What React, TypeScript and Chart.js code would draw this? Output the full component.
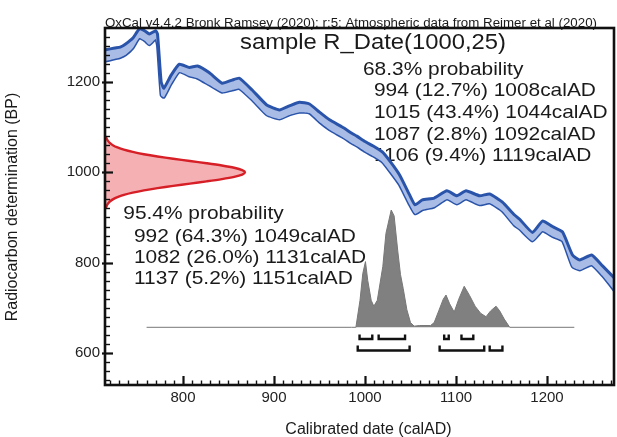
import React, { useEffect, useRef } from 'react';
import { Chart, registerables } from 'chart.js';

Chart.register(...registerables);

// ---- Data ----
// Calibration curve (±1σ band): calendar years AD, upper and lower edge in BP
const calYears = [712, 715, 725, 731, 737, 745, 752, 758, 763, 770, 772, 776, 779, 787, 796, 807, 816, 829, 843, 854, 862, 876, 892, 906, 917, 928, 939, 950, 961, 975, 985, 991, 1000, 1009, 1019, 1028, 1038, 1049, 1055, 1063, 1076, 1090, 1101, 1111, 1126, 1137, 1151, 1164, 1170, 1184, 1195, 1206, 1217, 1228, 1236, 1249, 1261, 1276];
const curveUpper = [1270, 1271, 1275, 1277, 1284, 1297, 1317, 1313, 1306, 1313, 1306, 1200, 1186, 1215, 1239, 1232, 1235, 1220, 1197, 1204, 1208, 1182, 1149, 1138, 1147, 1155, 1151, 1133, 1116, 1100, 1087, 1080, 1068, 1058, 1045, 1023, 994, 950, 928, 939, 943, 959, 948, 959, 948, 952, 934, 906, 896, 867, 892, 880, 868, 817, 806, 817, 793, 762];
const curveLower = [1245, 1246, 1251, 1254, 1260, 1275, 1297, 1291, 1282, 1295, 1280, 1170, 1166, 1196, 1222, 1213, 1208, 1193, 1177, 1182, 1185, 1160, 1127, 1118, 1127, 1133, 1131, 1111, 1094, 1078, 1065, 1058, 1046, 1036, 1023, 1000, 972, 928, 908, 917, 923, 941, 930, 941, 928, 932, 914, 883, 874, 848, 870, 858, 848, 791, 784, 795, 771, 733];

// Radiocarbon measurement R_Date(1000,25): BP values and relative density
const gaussBP = [1080, 1075, 1070, 1065, 1060, 1055, 1050, 1045, 1040, 1035, 1030, 1025, 1020, 1015, 1010, 1005, 1000, 995, 990, 985, 980, 975, 970, 965, 960, 955, 950, 945, 940, 935, 930, 925, 920];
const gaussDensity = [0.006, 0.011, 0.02, 0.034, 0.056, 0.089, 0.135, 0.198, 0.278, 0.375, 0.487, 0.607, 0.726, 0.835, 0.923, 0.98, 1, 0.98, 0.923, 0.835, 0.726, 0.607, 0.487, 0.375, 0.278, 0.198, 0.135, 0.089, 0.056, 0.034, 0.02, 0.011, 0.006];

// Calibrated probability distribution: years AD and relative density
const probYears = [760, 985, 990, 994.5, 997.6, 1000.5, 1003, 1006.8, 1009.7, 1013.5, 1019.6, 1023, 1028.8, 1032, 1036, 1039, 1042, 1046, 1050, 1054, 1060, 1072, 1076, 1081, 1086, 1089, 1093, 1098, 1103, 1109, 1115, 1121, 1127, 1133, 1138, 1144, 1148, 1153, 1159, 1230];
const probDensity = [0, 0, 0, 0.23, 0.46, 0.56, 0.4, 0.23, 0.18, 0.23, 0.52, 0.8, 1, 0.95, 0.65, 0.45, 0.33, 0.15, 0.04, 0.01, 0.015, 0.015, 0.04, 0.14, 0.24, 0.275, 0.2, 0.13, 0.24, 0.35, 0.27, 0.18, 0.12, 0.09, 0.14, 0.18, 0.14, 0.07, 0, 0];

// Ranges
const probLevels = [68.3, 95.4];
const ranges68 = [[994, 1008], [1015, 1044], [1087, 1092], [1106, 1119]];
const percents68 = [12.7, 43.4, 2.8, 9.4];
const ranges95 = [[992, 1049], [1082, 1131], [1137, 1151]];
const percents95 = [64.3, 26.0, 5.2];

// Axes
const xTickLabels = [800, 900, 1000, 1100, 1200];
const yTickLabels = [600, 800, 1000, 1200];
const X_MIN = 714.3;
const X_MAX = 1273.6;
const Y_MIN = 529.4;
const Y_MAX = 1319.2;

const headerText = 'OxCal v4.4.2 Bronk Ramsey (2020); r:5; Atmospheric data from Reimer et al (2020)';
const sampleLabel = 'sample R_Date(1000,25)';
const xTitle = 'Calibrated date (calAD)';
const yTitle = 'Radiocarbon determination (BP)';

// ---- Rendering ----
const FONT = "'Liberation Sans', Arial, Helvetica, sans-serif";
const TEXT = '#1a1a1a';

function txt(ctx: CanvasRenderingContext2D, s: string, x: number, y: number, size: number, scaleX = 1) {
  ctx.save();
  ctx.font = `${size}px ${FONT}`;
  ctx.fillStyle = TEXT;
  ctx.textAlign = 'left';
  ctx.textBaseline = 'alphabetic';
  ctx.translate(x, y);
  ctx.scale(scaleX, 1);
  ctx.fillText(s, 0, 0);
  ctx.restore();
}

function txtW(ctx: CanvasRenderingContext2D, s: string, x: number, y: number, size: number, width: number) {
  ctx.save();
  ctx.font = `${size}px ${FONT}`;
  const w = ctx.measureText(s).width;
  ctx.restore();
  txt(ctx, s, x, y, size, width / w);
}

const fmtRange = (r: number[], p: number) => `${r[0]} (${p.toFixed(1)}%) ${r[1]}calAD`;

const overlayPlugin = {
  id: 'oxcalOverlay',
  beforeDatasetsDraw(chart: any) {
    const ctx: CanvasRenderingContext2D = chart.ctx;
    txtW(ctx, headerText, 105, 26.5, 12, 492);
    txtW(ctx, sampleLabel, 240, 49.3, 22, 266);
    txt(ctx, `${probLevels[0]}% probability`, 363, 75, 19, 1.1);
    ranges68.forEach((r, i) => txt(ctx, fmtRange(r, percents68[i]), 374, 95.7 + i * 21.9, 19, 1.1));
    txt(ctx, `${probLevels[1]}% probability`, 123.3, 219, 19, 1.1);
    ranges95.forEach((r, i) => txt(ctx, fmtRange(r, percents95[i]), 134, 241.5 + i * 21.3, 19, 1.1));

    ctx.save();
    ctx.font = `16px ${FONT}`;
    ctx.fillStyle = TEXT;
    ctx.textAlign = 'center';
    ctx.textBaseline = 'alphabetic';
    ctx.fillText(xTitle, 368.5, 433.7);
    ctx.translate(17, 207);
    ctx.rotate(-Math.PI / 2);
    ctx.fillText(yTitle, 0, 0);
    ctx.restore();
  },
  afterDraw(chart: any) {
    const ctx: CanvasRenderingContext2D = chart.ctx;
    const { left, right, top, bottom } = chart.chartArea;
    const xs = chart.scales.x;
    const ys = chart.scales.y;
    ctx.save();
    ctx.strokeStyle = '#111';
    // ticks on x axis
    for (let v = Math.ceil(X_MIN / 10) * 10; v <= X_MAX; v += 10) {
      const px = Math.round(xs.getPixelForValue(v)) + 0.5;
      const major = v % 100 === 0;
      ctx.lineWidth = major ? 2.2 : 1.4;
      ctx.beginPath();
      ctx.moveTo(px, bottom);
      ctx.lineTo(px, bottom - (major ? 9 : 4.5));
      ctx.stroke();
    }
    // ticks on y axis
    for (let v = Math.ceil(Y_MIN / 20) * 20; v <= Y_MAX; v += 20) {
      const py = Math.round(ys.getPixelForValue(v)) + 0.5;
      const major = v % 200 === 0;
      ctx.lineWidth = major ? 2.2 : 1.4;
      ctx.beginPath();
      ctx.moveTo(major ? left - 3 : left, py);
      ctx.lineTo(left + (major ? 8 : 5), py);
      ctx.stroke();
    }
    // plot box
    ctx.lineWidth = 2.6;
    ctx.strokeRect(left, top, right - left, bottom - top);
    ctx.restore();
  },
};

function buildBrackets(ranges: number[][], topLevel: number, lowLevel: number) {
  const pts: { x: number; y: number | null }[] = [];
  ranges.forEach(([a, b]) => {
    pts.push({ x: a, y: topLevel }, { x: a, y: lowLevel }, { x: b, y: lowLevel }, { x: b, y: topLevel }, { x: b, y: null });
  });
  return pts;
}

export default function App() {
  const ref = useRef<HTMLCanvasElement>(null);

  useEffect(() => {
    const canvas = ref.current;
    if (!canvas) return;

    const BLUE = '#2a54aa';
    const tickFont = { family: FONT, size: 15 };

    const chart = new Chart(canvas, {
      type: 'line',
      data: {
        datasets: [
          {
            label: 'brackets68',
            data: buildBrackets(ranges68, -0.061, -0.1),
            xAxisID: 'x',
            yAxisID: 'yProb',
            borderColor: '#111',
            borderWidth: 2.4,
            borderJoinStyle: 'miter',
            pointRadius: 0,
            spanGaps: false,
            fill: false,
            tension: 0,
          },
          {
            label: 'brackets95',
            data: buildBrackets(ranges95, -0.155, -0.198),
            xAxisID: 'x',
            yAxisID: 'yProb',
            borderColor: '#111',
            borderWidth: 2.4,
            borderJoinStyle: 'miter',
            pointRadius: 0,
            spanGaps: false,
            fill: false,
            tension: 0,
          },
          {
            label: 'Calibrated',
            data: probYears.map((x, i) => ({ x, y: probDensity[i] })),
            xAxisID: 'x',
            yAxisID: 'yProb',
            borderColor: '#777',
            borderWidth: 1,
            backgroundColor: '#808080',
            fill: 'origin',
            pointRadius: 0,
            tension: 0,
          },
          {
            label: 'R_Date',
            data: gaussBP.map((y, i) => ({ x: gaussDensity[i], y })),
            xAxisID: 'xProb',
            yAxisID: 'y',
            borderColor: '#d61f26',
            borderWidth: 2.4,
            backgroundColor: 'rgba(242,150,155,0.75)',
            fill: 'shape',
            pointRadius: 0,
            tension: 0.3,
          },
          {
            label: 'curveUpper',
            data: calYears.map((x, i) => ({ x, y: curveUpper[i] })),
            xAxisID: 'x',
            yAxisID: 'y',
            borderColor: BLUE,
            borderWidth: 3,
            backgroundColor: '#a9bce6',
            fill: '+1',
            pointRadius: 0,
            tension: 0.15,
          },
          {
            label: 'curveLower',
            data: calYears.map((x, i) => ({ x, y: curveLower[i] })),
            xAxisID: 'x',
            yAxisID: 'y',
            borderColor: BLUE,
            borderWidth: 3,
            fill: false,
            pointRadius: 0,
            tension: 0.15,
          },
        ],
      },
      options: {
        responsive: false,
        animation: false,
        devicePixelRatio: 1,
        layout: { padding: { top: 28, right: 3, left: 0, bottom: 0 } },
        plugins: {
          legend: { display: false },
          tooltip: { enabled: false },
          title: { display: false },
        },
        scales: {
          x: {
            type: 'linear',
            position: 'bottom',
            min: X_MIN,
            max: X_MAX,
            grid: { display: false, drawTicks: false },
            border: { display: false },
            ticks: {
              autoSkip: false,
              maxRotation: 0,
              padding: 4,
              color: '#222',
              font: tickFont,
              callback: (v: any) => String(v),
            },
            afterBuildTicks: (s: any) => {
              s.ticks = xTickLabels.map((v) => ({ value: v }));
            },
            afterFit: (s: any) => {
              s.height = 52;
            },
          },
          y: {
            type: 'linear',
            position: 'left',
            min: Y_MIN,
            max: Y_MAX,
            grid: { display: false, drawTicks: false },
            border: { display: false },
            ticks: {
              padding: 5,
              color: '#222',
              font: tickFont,
              callback: (v: any) => String(v),
            },
            afterBuildTicks: (s: any) => {
              s.ticks = yTickLabels.map((v) => ({ value: v }));
            },
            afterFit: (s: any) => {
              s.width = 105;
            },
          },
          xProb: { type: 'linear', display: false, min: 0, max: 3.636 },
          yProb: { type: 'linear', display: false, min: -0.492, max: 2.552 },
        },
      } as any,
      plugins: [overlayPlugin as any],
    });

    return () => chart.destroy();
  }, []);

  return (
    <div style={{ position: 'fixed', left: 0, top: 0, width: 617, height: 437, background: '#fff' }}>
      <canvas ref={ref} width={617} height={437} style={{ width: 617, height: 437, display: 'block' }} />
    </div>
  );
}
